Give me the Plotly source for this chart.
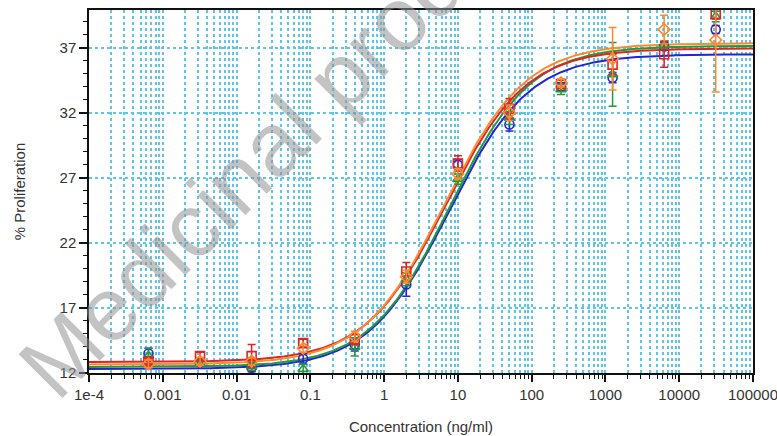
import numpy as np
import plotly.graph_objects as go

# Concentrations (ng/ml), 5-fold dilution series
conc = [0.00064, 0.0032, 0.016, 0.08, 0.4, 2, 10, 50, 250, 1250, 6250, 31250]

# Mean % proliferation and error for each sample
blue_y = [13.5, 12.8, 12.4, 13.1, 14.2, 18.8, 28.0, 31.1, 34.0, 34.7, 37.1, 38.4]
blue_err = [0.4, 0.2, 0.3, 0.4, 0.5, 0.9, 0.4, 0.5, 0.3, 0.4, 0.3, 0.3]
red_y = [12.9, 13.3, 13.3, 14.3, 14.6, 19.8, 28.1, 32.3, 34.2, 35.7, 36.5, 39.6]
red_err = [0.2, 0.3, 0.9, 0.3, 0.4, 0.7, 0.6, 0.8, 0.3, 0.8, 1.0, 0.4]
green_y = [13.3, 12.7, 12.5, 12.3, 14.0, 19.2, 26.9, 31.6, 33.8, 34.95, 37.2, 39.4]
green_err = [0.6, 0.2, 0.3, 0.4, 0.7, 0.5, 0.4, 0.5, 0.4, 2.45, 0.3, 0.4]
orange_y = [12.7, 12.9, 12.9, 13.9, 14.8, 19.4, 27.3, 32.0, 34.3, 36.15, 38.4, 37.6]
orange_err = [0.3, 0.3, 0.3, 0.3, 0.4, 0.5, 0.4, 0.6, 0.3, 2.4, 1.1, 4.0]

# 4-parameter logistic fit parameters (blue, red, green, orange)
fit_bottom = [12.3, 12.85, 12.45, 12.65]
fit_top = [36.5, 36.95, 37.15, 37.35]
fit_ec50 = [7.5, 6.8, 7.8, 6.6]
fit_hill = [0.80, 0.80, 0.80, 0.79]

# Axis tick labels
x_tickvals = [1e-4, 1e-3, 1e-2, 1e-1, 1, 10, 100, 1000, 10000, 100000]
x_ticktext = ["1e-4", "0.001", "0.01", "0.1", "1", "10", "100", "1000", "10000", "100000"]
y_tickvals = [12, 17, 22, 27, 32, 37]

colors = ["#2424d4", "#e02424", "#229a3a", "#ff8a2e"]
symbols = ["circle-open", "square-open", "triangle-up-open", "diamond-open"]
series_y = [blue_y, red_y, green_y, orange_y]
series_err = [blue_err, red_err, green_err, orange_err]

GRID = "#5cc6e8"
FONT = "Liberation Sans, Arial, sans-serif"

fig = go.Figure()

xs = np.logspace(-4, 5, 400)
line_order = [0, 2, 1, 3]
for i in line_order:
    b, t, c, h = fit_bottom[i], fit_top[i], fit_ec50[i], fit_hill[i]
    fit = b + (t - b) / (1 + (c / xs) ** h)
    fig.add_trace(go.Scatter(x=xs, y=fit, mode="lines",
                             line=dict(color=colors[i], width=2),
                             hoverinfo="skip", showlegend=False))

for i in line_order:
    fig.add_trace(go.Scatter(
        x=conc, y=series_y[i], mode="markers",
        marker=dict(symbol=symbols[i], size=9, color=colors[i],
                    line=dict(color=colors[i], width=1.6)),
        error_y=dict(type="data", array=series_err[i], visible=True,
                     color=colors[i], thickness=1.5, width=4),
        showlegend=False))

minor_x = [m * 10.0 ** k for k in range(-4, 5) for m in range(2, 10)]

fig.update_xaxes(
    type="log", range=[-4, 5], automargin=False,
    tickmode="array", tickvals=x_tickvals, ticktext=x_ticktext,
    ticklabeloverflow="allow",
    ticks="outside", ticklen=7, tickwidth=1.5, tickcolor="#111",
    showline=True, linecolor="#111", linewidth=1.5, mirror=True,
    showgrid=True, gridcolor=GRID, griddash="dot", gridwidth=1.6,
    zeroline=False,
    minor=dict(tickmode="array", tickvals=minor_x, ticks="outside", ticklen=4,
               tickwidth=1.2, tickcolor="#111", showgrid=True, gridcolor=GRID,
               griddash="dot", gridwidth=1.6),
    tickfont=dict(family=FONT, size=15, color="#333"),
    title=dict(text="Concentration (ng/ml)", standoff=20,
               font=dict(family=FONT, size=15, color="#333")),
)
fig.update_yaxes(
    range=[12, 39.9], automargin=False,
    tickmode="array", tickvals=y_tickvals,
    ticks="outside", ticklen=8, tickwidth=1.5, tickcolor="#111",
    showline=True, linecolor="#111", linewidth=1.5, mirror=True,
    showgrid=True, gridcolor=GRID, griddash="dot", gridwidth=1.6,
    zeroline=False,
    minor=dict(dtick=1, tick0=12, ticks="outside", ticklen=4, tickwidth=1.2,
               tickcolor="#111", showgrid=False),
    tickfont=dict(family=FONT, size=15, color="#333"),
    title=dict(text="% Proliferation", standoff=30,
               font=dict(family=FONT, size=15, color="#333")),
)

fig.add_annotation(
    text="Medicinal product no longer authorised",
    xref="paper", yref="paper", x=0.745, y=1.488,
    xanchor="center", yanchor="middle", showarrow=False, textangle=-45,
    font=dict(family=FONT, size=90, color="rgba(145,145,145,0.55)"),
)

fig.update_layout(
    width=777, height=436,
    margin=dict(l=89, r=24, t=10, b=63),
    paper_bgcolor="white", plot_bgcolor="white",
    showlegend=False,
)

fig.write_html("out.html")
